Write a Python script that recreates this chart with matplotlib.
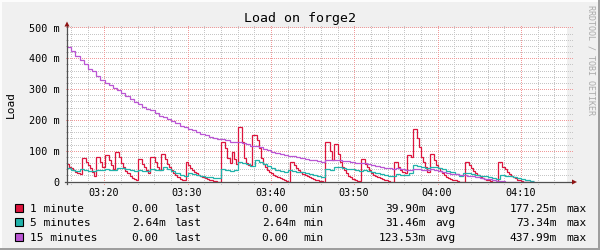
import numpy as np
import matplotlib
matplotlib.use("Agg")
import matplotlib.pyplot as plt
from matplotlib.patches import Polygon, Rectangle
from matplotlib.lines import Line2D
from matplotlib.transforms import IdentityTransform

# ---------------- data ----------------
t_start = 15.6      # minutes after 03:00 at left edge of the graph
t_end = 75.6
step_1min = 0.25    # minutes per sample of the 1-minute series
step_slow = 0.5     # minutes per sample of the 5- and 15-minute series

load_1min = [57, 50, 44, 38, 33, 28, 25, 77, 77, 66,
             55, 44, 34, 18, 82, 82, 66, 50, 87, 87,
             70, 55, 42, 97, 97, 80, 62, 48, 37, 28,
             20, 14, 10, 8, 75, 75, 60, 48, 38, 30,
             80, 80, 64, 50, 40, 92, 92, 75, 60, 48,
             38, 30, 22, 16, 11, 7, 5, 66, 55, 46,
             39, 33, 28, 23, 19, 16, 13, 10, 8, 6,
             4, 3, 1, 0, 131, 131, 109, 77, 61, 96,
             75, 58, 177, 177, 131, 77, 62, 55, 55, 153,
             153, 136, 109, 77, 60, 50, 40, 34, 28, 23,
             20, 16, 13, 11, 8, 4, 0, 66, 66, 55,
             46, 38, 32, 26, 22, 18, 15, 12, 10, 8,
             6, 4, 2, 0, 129, 129, 100, 70, 124, 124,
             90, 65, 50, 38, 28, 20, 15, 10, 6, 4,
             2, 75, 75, 60, 48, 38, 30, 24, 19, 15,
             12, 10, 7, 5, 3, 1, 0, 66, 66, 50,
             40, 32, 28, 88, 88, 80, 172, 172, 142, 115,
             82, 66, 50, 34, 90, 90, 71, 55, 44, 35,
             28, 22, 17, 13, 10, 7, 5, 3, 1, 0,
             0, 66, 66, 55, 44, 35, 28, 22, 17, 13,
             10, 7, 5, 3, 1, 0, 0, 66, 66, 50,
             42, 34, 27, 20, 16, 12, 8, 5, 3, 1,
             0, 0, 0, 0]
load_5min = [44, 40, 37, 41, 39, 37, 35, 40, 38, 42,
             40, 38, 46, 44, 41, 38, 35, 39, 37, 35,
             42, 40, 38, 48, 42, 36, 30, 24, 19, 28,
             26, 22, 20, 17, 15, 13, 12, 41, 38, 35,
             38, 66, 62, 57, 53, 73, 66, 58, 52, 46,
             40, 36, 32, 39, 37, 34, 31, 28, 25, 22,
             19, 17, 41, 39, 50, 48, 46, 43, 41, 38,
             35, 40, 37, 34, 30, 27, 24, 21, 18, 25,
             23, 22, 28, 55, 52, 49, 46, 50, 48, 45,
             41, 36, 31, 26, 21, 30, 29, 27, 24, 21,
             18, 15, 13, 11, 23, 21, 18, 15, 12, 9,
             6, 2.64]
load_15min = [438, 425, 410, 395, 382, 368, 360, 345, 331, 322,
              315, 306, 300, 290, 278, 268, 260, 252, 244, 236,
              233, 224, 215, 210, 205, 198, 190, 183, 178, 172,
              168, 162, 156, 152, 147, 142, 138, 140, 136, 131,
              129, 130, 126, 122, 118, 118, 113, 108, 104, 99,
              95, 91, 88, 86, 84, 81, 78, 75, 72, 70,
              67, 65, 71, 70, 73, 71, 69, 67, 65, 63,
              61, 62, 59, 56, 53, 50, 47, 45, 43, 44,
              42, 40, 40, 42, 41, 40, 39, 41, 39, 36,
              33, 29, 27, 25, 22, 22, 20, 18, 16, 14,
              11, 9, 6, 4, 3, 1, 0, 0, 0, 0,
              0, 0]

series_names = ["1 minute", "5 minutes", "15 minutes"]
series_colors = ["#DC143C", "#20B2AA", "#BA55D3"]
stat_last = ["0.00", "2.64m", "0.00"]
stat_min = ["0.00", "2.64m", "0.00"]
stat_avg = ["39.90m", "31.46m", "123.53m"]
stat_max = ["177.25m", "73.34m", "437.99m"]

x_major = [20, 30, 40, 50, 60, 70]
x_labels = ["03:20", "03:30", "03:40", "03:50", "04:00", "04:10"]
y_major = [0, 100, 200, 300, 400, 500]
y_labels = ["0", "100 m", "200 m", "300 m", "400 m", "500 m"]

title = "Load on forge2"
ylabel = "Load"
watermark = "RRDTOOL / TOBI OETIKER"

# ---------------- layout helpers ----------------
W, H = 600, 250
X0, X1, YT, YB = 67, 567, 28, 182


def fx(x):
    return x / W


def fy(y):
    return 1 - y / H


def t_to_px(t):
    return X0 + (t - t_start) * (X1 - X0) / (t_end - t_start)


def v_to_px(v):
    return YB - v * (YB - YT) / 500


MONO = "DejaVu Sans Mono"
fig = plt.figure(figsize=(W / 100, H / 100), dpi=100, facecolor="#F0F0F0")

# 3D-ish frame
fig.add_artist(Rectangle((0, fy(2)), 1, 2 / H, transform=fig.transFigure,
                         color="#FCFCFC", lw=0, zorder=0))
fig.add_artist(Rectangle((0, 0), 2 / W, 1, transform=fig.transFigure,
                         color="#FCFCFC", lw=0, zorder=0))
fig.add_artist(Rectangle((0, 0), 1, 2 / H, transform=fig.transFigure,
                         color="#9E9E9E", lw=0, zorder=1))
fig.add_artist(Rectangle((fx(W - 2), 0), 2 / W, 1, transform=fig.transFigure,
                         color="#9E9E9E", lw=0, zorder=1))

ax = fig.add_axes([fx(X0), fy(YB), (X1 - X0) / W, (YB - YT) / H])
ax.set_xlim(t_start, t_end)
ax.set_ylim(0, 500)
ax.set_facecolor("white")
for s in ax.spines.values():
    s.set_visible(False)
ax.set_xticks([])
ax.set_yticks([])
ax.set_zorder(0.5)

# dotted grid drawn as single pixels (1 on, 1 off), like rrdtool
minor_c = "#C6C6C6"
major_c = "#F09A9A"
ident = IdentityTransform()


def hdots(y_px, color, z):
    yd = np.floor(H - y_px) + 0.5
    xs = np.arange(X0 - 2, X1 + 5, 2) + 0.5
    fig.add_artist(Line2D(xs, np.full_like(xs, yd), ls="none", marker=",",
                          color=color, transform=ident, zorder=z))


def vdots(x_px, color, z):
    xd = np.floor(x_px) + 0.5
    ys = H - (np.arange(YT - 2, YB + 3, 2) + 0.5)
    fig.add_artist(Line2D(np.full_like(ys, xd), ys, ls="none", marker=",",
                          color=color, transform=ident, zorder=z))


for v in np.arange(20, 500, 20):
    if v % 100:
        hdots(v_to_px(v), minor_c, 0.6)
for t in np.arange(16, 76, 2):
    if t % 10:
        vdots(t_to_px(t), minor_c, 0.6)
for v in y_major[1:]:
    hdots(v_to_px(v), major_c, 0.7)
for t in x_major:
    vdots(t_to_px(t), major_c, 0.7)

# series on a transparent overlay axes so they sit above the grid
ax2 = fig.add_axes(ax.get_position(), facecolor="none", zorder=2)
ax2.set_xlim(t_start, t_end)
ax2.set_ylim(0, 500)
for s in ax2.spines.values():
    s.set_visible(False)
ax2.set_xticks([])
ax2.set_yticks([])

series = [(load_1min, step_1min), (load_5min, step_slow), (load_15min, step_slow)]
for (vals, st), col in zip(series, series_colors):
    edges = t_start + st * np.arange(len(vals) + 1)
    ax2.stairs(vals, edges, baseline=None, color=col, lw=0.9, zorder=3)

# axes lines and arrows
axis_c = "#505050"
fig.add_artist(Line2D([fx(X0 - 2), fx(572)], [fy(YB), fy(YB)], color=axis_c,
                      lw=0.9, transform=fig.transFigure, zorder=5))
fig.add_artist(Line2D([fx(X0), fx(X0)], [fy(YB + 2), fy(26)], color=axis_c,
                      lw=0.9, transform=fig.transFigure, zorder=5))
arrow_c = "#8E1414"
fig.add_artist(Polygon([(fx(64.5), fy(26.5)), (fx(69.5), fy(26.5)), (fx(67), fy(21.5))],
                       closed=True, color=arrow_c, lw=0, transform=fig.transFigure, zorder=6))
fig.add_artist(Polygon([(fx(572), fy(179.5)), (fx(572), fy(184.5)), (fx(577), fy(182))],
                       closed=True, color=arrow_c, lw=0, transform=fig.transFigure, zorder=6))

# tick labels
for v, lab in zip(y_major, y_labels):
    fig.text(fx(60), fy(v_to_px(v) + 3.6), lab, ha="right", va="baseline",
             family=MONO, fontsize=7.3, color="#000000")
for t, lab in zip(x_major, x_labels):
    fig.text(fx(t_to_px(t)), fy(196), lab, ha="center", va="baseline",
             family=MONO, fontsize=7.3, color="#000000")

fig.text(fx(300), fy(22), title, ha="center", va="baseline",
         family=MONO, fontsize=9.5, color="#000000")
fig.text(fx(11), fy(105), ylabel, ha="center", va="center", rotation=90,
         family=MONO, fontsize=8, color="#000000")
fig.text(fx(591), fy(5), watermark, ha="center", va="top", rotation=-90,
         family=MONO, fontsize=6, color="#AAAAAA")

# legend
row_base = [212, 226.3, 240.6]
for k in range(3):
    yb = row_base[k]
    fig.add_artist(Rectangle((fx(15), fy(yb)), 8 / W, 8 / H, transform=fig.transFigure,
                             facecolor=series_colors[k], edgecolor="black", lw=0.8, zorder=6))
    kw = dict(va="baseline", family=MONO, fontsize=8.0, color="#000000")
    fig.text(fx(30.5), fy(yb), series_names[k], ha="left", **kw)
    fig.text(fx(131.7), fy(yb), stat_last[k], ha="left", **kw)
    fig.text(fx(174), fy(yb), "last", ha="left", **kw)
    fig.text(fx(261.7), fy(yb), stat_min[k], ha="left", **kw)
    fig.text(fx(303.3), fy(yb), "min", ha="left", **kw)
    fig.text(fx(426), fy(yb), stat_avg[k], ha="right", **kw)
    fig.text(fx(435), fy(yb), "avg", ha="left", **kw)
    fig.text(fx(556.7), fy(yb), stat_max[k], ha="right", **kw)
    fig.text(fx(566.7), fy(yb), "max", ha="left", **kw)

fig.savefig("out.png", dpi=100, facecolor=fig.get_facecolor())
